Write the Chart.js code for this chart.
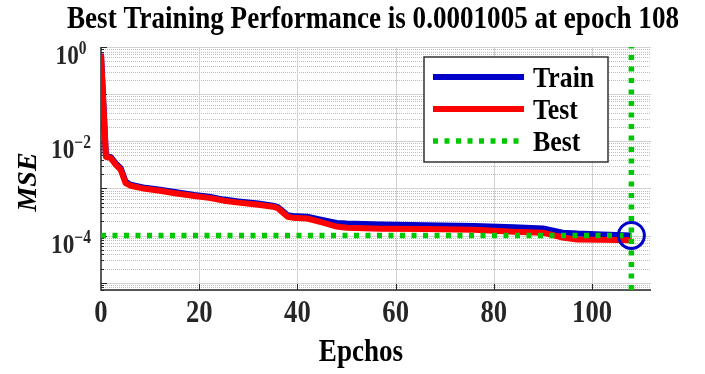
<!DOCTYPE html>
<html>
<head>
<meta charset="utf-8">
<script src="https://cdn.jsdelivr.net/npm/chart.js@4.4.1/dist/chart.umd.min.js"></script>
<style>
  html, body { margin: 0; padding: 0; background: #fff; }
  #wrap { width: 705px; height: 374px; }
</style>
</head>
<body>
<div id="wrap"><canvas id="perfChart" width="705" height="374"></canvas></div>
<script>
// ---- data ----
const epochs   = [0, 1, 2, 3, 4, 5, 6, 9, 12, 15, 19, 22, 25, 28, 32, 35, 36, 37, 38, 39, 42, 45, 48, 50, 57, 66, 76, 84, 90, 94, 97, 102, 108];
const trainMse = [0.72, 4.9e-3, 4.6e-3, 3.4e-3, 2.7e-3, 1.4e-3, 1.2e-3, 1.03e-3, 9.4e-4, 8.4e-4, 7.3e-4, 6.7e-4, 5.8e-4, 5.3e-4, 4.8e-4, 4.3e-4, 4.0e-4, 3.3e-4, 2.7e-4, 2.6e-4, 2.5e-4, 2.15e-4, 1.85e-4, 1.8e-4, 1.72e-4, 1.66e-4, 1.6e-4, 1.5e-4, 1.42e-4, 1.15e-4, 1.1e-4, 1.05e-4, 1.005e-4];
const testMse  = [0.70, 4.7e-3, 4.4e-3, 3.2e-3, 2.5e-3, 1.3e-3, 1.14e-3, 9.8e-4, 8.9e-4, 7.9e-4, 6.9e-4, 6.3e-4, 5.5e-4, 5.0e-4, 4.5e-4, 4.1e-4, 3.8e-4, 3.1e-4, 2.5e-4, 2.4e-4, 2.3e-4, 1.9e-4, 1.55e-4, 1.47e-4, 1.4e-4, 1.37e-4, 1.33e-4, 1.2e-4, 1.15e-4, 9.1e-5, 8.2e-5, 8.1e-5, 8.0e-5];
const bestEpoch = 108;
const bestPerf = 1.005e-4;
const xTicks = [0, 20, 40, 60, 80, 100];
const yLabelExps = [0, -2, -4];
const xRange = [0, 112];
const yRange = [7e-6, 1];

const TITLE = "Best Training Performance is 0.0001005 at epoch 108";
const SERIF = '"Liberation Serif", "Times New Roman", serif';
const COLORS = { train: "#0000c8", test: "#ff0000", best: "#00c800", axis: "#262626" };
const SQUEEZE = 0.86; // reference glyphs are narrow and tall

const pts = (xs, ys) => xs.map((x, i) => ({ x, y: ys[i] }));

// text drawn a little condensed, like the reference
function sText(ctx, str, x, y, font, align = "center", sx = SQUEEZE) {
  ctx.save();
  ctx.font = font;
  ctx.textBaseline = "alphabetic";
  const w = ctx.measureText(str).width * sx;
  const left = align === "center" ? x - w / 2 : align === "right" ? x - w : x;
  ctx.translate(left, y);
  ctx.scale(sx, 1);
  ctx.textAlign = "left";
  ctx.fillText(str, 0, 0);
  ctx.restore();
  return w;
}

/* ------------------------------------------------------------
   MATLAB-style decorations: grid, axes, labels, legend
------------------------------------------------------------ */
const matlabDecor = {
  id: "matlabDecor",
  beforeDatasetsDraw(chart) {
    const { ctx, chartArea: a, scales: { x, y } } = chart;
    ctx.save();
    ctx.lineWidth = 1;
    // horizontal log grid
    for (let k = -6; k <= 0; k++) {
      for (let m = 1; m <= 9; m++) {
        const v = m * Math.pow(10, k);
        if (v < yRange[0] || v > yRange[1]) continue;
        const py = Math.round(y.getPixelForValue(v)) + 0.5;
        ctx.strokeStyle = m === 1 ? "#d2d2d2" : "#bdbdbd";
        ctx.setLineDash(m === 1 ? [] : [1, 1]);
        ctx.beginPath(); ctx.moveTo(a.left, py); ctx.lineTo(a.right, py); ctx.stroke();
      }
    }
    // vertical major grid
    ctx.setLineDash([]);
    ctx.strokeStyle = "#d2d2d2";
    xTicks.slice(1).forEach(t => {
      const px = Math.round(x.getPixelForValue(t)) + 0.5;
      ctx.beginPath(); ctx.moveTo(px, a.top); ctx.lineTo(px, a.bottom); ctx.stroke();
    });
    // axes lines + inward ticks
    ctx.strokeStyle = COLORS.axis;
    ctx.lineWidth = 1.5;
    ctx.beginPath();
    ctx.moveTo(a.left, a.top); ctx.lineTo(a.left, a.bottom); ctx.lineTo(a.right, a.bottom);
    ctx.stroke();
    ctx.lineWidth = 1;
    for (let k = -6; k <= 0; k++) {
      for (let m = 1; m <= 9; m++) {
        const v = m * Math.pow(10, k);
        if (v < yRange[0] || v > yRange[1]) continue;
        const py = Math.round(y.getPixelForValue(v)) + 0.5;
        ctx.beginPath(); ctx.moveTo(a.left, py); ctx.lineTo(a.left + (m === 1 ? 6 : 3), py); ctx.stroke();
      }
    }
    xTicks.slice(1).forEach(t => {
      const px = Math.round(x.getPixelForValue(t)) + 0.5;
      ctx.beginPath(); ctx.moveTo(px, a.bottom); ctx.lineTo(px, a.bottom - 6); ctx.stroke();
    });
    ctx.restore();
  },
  afterDraw(chart) {
    const { ctx, chartArea: a, scales: { x, y } } = chart;
    ctx.save();

    // title
    ctx.fillStyle = "#000";
    sText(ctx, TITLE, 373, 28, `bold 31.5px ${SERIF}`);

    // x tick labels
    ctx.fillStyle = COLORS.axis;
    xTicks.forEach(t => {
      sText(ctx, String(t), x.getPixelForValue(t), a.bottom + 32, `bold 31px ${SERIF}`);
    });

    // y tick labels 10^k
    yLabelExps.forEach(e => {
      const py = y.getPixelForValue(Math.pow(10, e));
      const sup = e < 0 ? "\u2212" + Math.abs(e) : String(e);
      const baseFont = `bold 27px ${SERIF}`;
      const supFont = `bold 18px ${SERIF}`;
      ctx.font = baseFont;
      const wb = ctx.measureText("10").width * SQUEEZE;
      ctx.font = supFont;
      const ws = ctx.measureText(sup).width * SQUEEZE;
      const x0 = 71 - (wb + ws) / 2;
      sText(ctx, "10", x0, py + 17, baseFont, "left");
      sText(ctx, sup, x0 + wb, py + 7, supFont, "left");
    });

    // axis titles
    ctx.fillStyle = "#000";
    sText(ctx, "Epchos", 361, 361, `bold 31.5px ${SERIF}`);
    ctx.save();
    ctx.translate(36, 182);
    ctx.rotate(-Math.PI / 2);
    ctx.textAlign = "center";
    ctx.textBaseline = "alphabetic";
    ctx.font = `italic bold 28px ${SERIF}`;
    ctx.fillText("MSE", 0, 0);
    ctx.restore();

    // legend box
    const box = { x: 424, y: 57, w: 184, h: 105 };
    ctx.fillStyle = "#fff";
    ctx.fillRect(box.x, box.y, box.w, box.h);
    ctx.strokeStyle = "#333";
    ctx.lineWidth = 1.5;
    ctx.strokeRect(box.x, box.y, box.w, box.h);
    const items = chart.data.datasets.filter(d => d.legend);
    items.forEach((d, i) => {
      const ly = box.y + 20 + i * 32;
      ctx.strokeStyle = d.borderColor;
      ctx.lineWidth = d.borderWidth;
      ctx.setLineDash(d.borderDash || []);
      ctx.beginPath(); ctx.moveTo(433, ly); ctx.lineTo(524, ly); ctx.stroke();
      ctx.setLineDash([]);
      ctx.fillStyle = "#000";
      sText(ctx, d.label, 533, ly + 10, `bold 30px ${SERIF}`, "left");
    });
    ctx.restore();
  }
};

/* ------------------------------------------------------------
   Chart
------------------------------------------------------------ */
const lineBase = { pointRadius: 0, tension: 0, fill: false, borderCapStyle: "butt", borderJoinStyle: "round" };
const bestStyle = { borderColor: COLORS.best, borderWidth: 5.5, borderDash: [5, 6.5], pointRadius: 0, fill: false };

new Chart(document.getElementById("perfChart"), {
  type: "line",
  data: {
    datasets: [
      { label: "Train", legend: true, data: pts(epochs, trainMse), borderColor: COLORS.train, borderWidth: 6, order: 3, ...lineBase },
      { label: "Test", legend: true, data: pts(epochs, testMse), borderColor: COLORS.test, borderWidth: 6, order: 2, ...lineBase },
      { label: "Best", legend: true, data: [{ x: xRange[0], y: bestPerf }, { x: bestEpoch, y: bestPerf }], order: 1, ...bestStyle },
      { label: "BestV", data: [{ x: bestEpoch, y: yRange[0] }, { x: bestEpoch, y: yRange[1] }], order: 1, ...bestStyle },
      { label: "BestPt", data: [{ x: bestEpoch, y: bestPerf }], showLine: false, order: 0,
        pointRadius: 13, pointBorderWidth: 3, pointBorderColor: COLORS.train, pointBackgroundColor: "rgba(0,0,0,0)" }
    ]
  },
  options: {
    responsive: false,
    animation: false,
    layout: { padding: { left: 101, right: 54, top: 47, bottom: 0 } },
    plugins: { legend: { display: false }, title: { display: false }, tooltip: { enabled: false } },
    scales: {
      x: {
        type: "linear", min: xRange[0], max: xRange[1],
        grid: { display: false, drawTicks: false }, border: { display: false },
        ticks: { display: false, stepSize: 20 },
        afterBuildTicks: s => { s.ticks = s.ticks.filter(t => xTicks.includes(t.value)); },
        afterFit: s => { s.height = 84; }
      },
      y: {
        type: "logarithmic", min: yRange[0], max: yRange[1],
        grid: { display: false, drawTicks: false }, border: { display: false },
        ticks: { display: false },
        afterFit: s => { s.width = 0; }
      }
    }
  },
  plugins: [matlabDecor]
});
</script>
</body>
</html>
